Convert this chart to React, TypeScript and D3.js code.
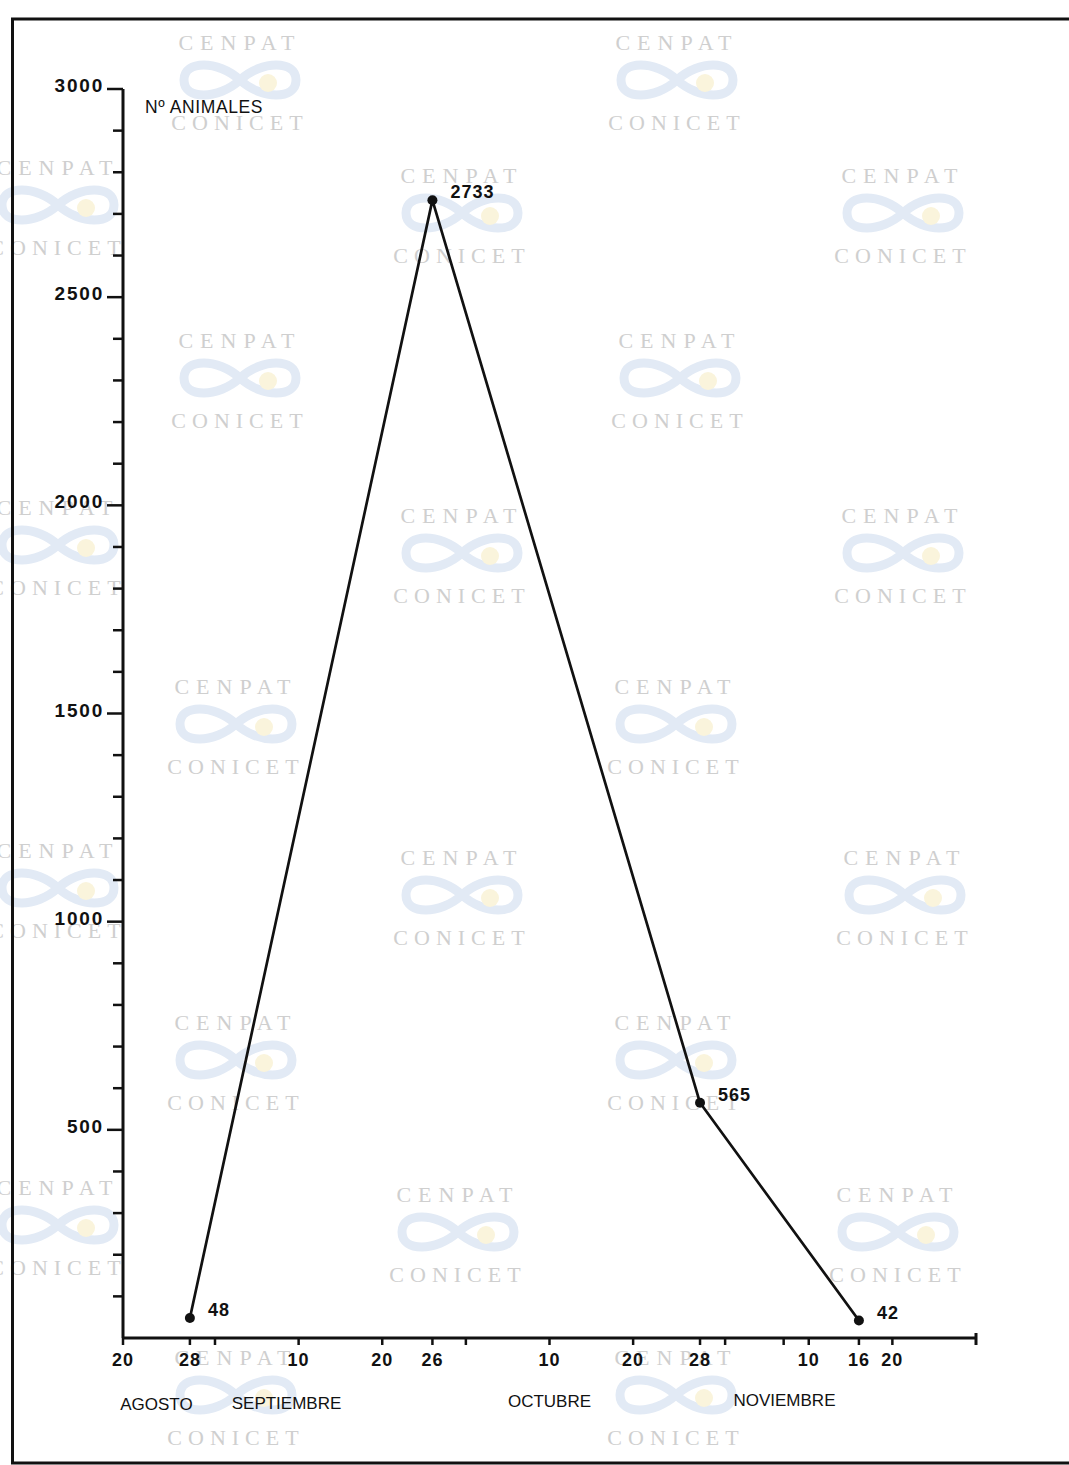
import React from "react";
import * as d3 from "d3";

// ---------- data ----------
const sampleDates = ["1983-08-28", "1983-09-26", "1983-10-28", "1983-11-16"];
const animalCounts = [48, 2733, 565, 42];

const axisStart = "1983-08-20";
const axisEnd = "1983-11-30";

const labeledTickDates = [
  "1983-08-20", "1983-08-28", "1983-09-10", "1983-09-20", "1983-09-26",
  "1983-10-10", "1983-10-20", "1983-10-28", "1983-11-10", "1983-11-16", "1983-11-20",
];
const unlabeledTickDates = ["1983-08-31", "1983-09-30", "1983-10-31", "1983-11-07"];

const monthNames = ["AGOSTO", "SEPTIEMBRE", "OCTUBRE", "NOVIEMBRE"];
const monthAnchorDates = ["1983-08-24", "1983-09-02", "1983-10-10", "1983-11-01"];
const monthAnchors = ["middle", "start", "middle", "start"];

const yMax = 3000;
const yMinorStep = 100;
const yMajorStep = 500;
const yTitle = "Nº ANIMALES";

// watermark layout (decorative scan stamps)
const stampCenters: [number, number][] = [
  [240, 42], [677, 42],
  [58, 167], [462, 175], [903, 175],
  [240, 340], [680, 340],
  [58, 507], [462, 515], [903, 515],
  [236, 686], [676, 686],
  [58, 850], [462, 857], [905, 857],
  [236, 1022], [676, 1022],
  [58, 1187], [458, 1194], [898, 1194],
  [236, 1357], [676, 1357],
];

const parse = d3.timeParse("%Y-%m-%d");

const W = 1069;
const H = 1465;
const X0 = 123;
const X1 = 976;
const Y0 = 1338;
const Ytop = 89;

const FONT = "'Liberation Sans', Arial, Helvetica, sans-serif";
const SERIF = "'Liberation Serif', 'DejaVu Serif', Times, serif";

function Stamp({ cx, cy }: { cx: number; cy: number }) {
  const ly = cy + 38;
  const a = 56;
  const b = 20;
  const p = `M${cx - a},${ly} C${cx - a},${ly - b} ${cx - 22},${ly - b} ${cx},${ly} C${cx + 22},${ly + b} ${cx + a},${ly + b} ${cx + a},${ly} C${cx + a},${ly - b} ${cx + 22},${ly - b} ${cx},${ly} C${cx - 22},${ly + b} ${cx - a},${ly + b} ${cx - a},${ly} Z`;
  return (
    <g>
      <text x={cx} y={cy + 8} textAnchor="middle" fontFamily={SERIF} fontSize={22}
        letterSpacing={7} fill="#cfcfcf">CENPAT</text>
      <path d={p} fill="none" stroke="#e2eaf5" strokeWidth={9} />
      <circle cx={cx + 28} cy={ly + 3} r={9} fill="#faf4dc" />
      <text x={cx} y={cy + 88} textAnchor="middle" fontFamily={SERIF} fontSize={22}
        letterSpacing={6} fill="#cfcfcf">CONICET</text>
    </g>
  );
}

export default function App() {
  const x = d3.scaleTime().domain([parse(axisStart)!, parse(axisEnd)!]).range([X0, X1]);
  const y = d3.scaleLinear().domain([0, yMax]).range([Y0, Ytop]);

  const pts = sampleDates.map((d, i) => ({ date: parse(d)!, v: animalCounts[i] }));
  const line = d3.line<{ date: Date; v: number }>().x((d) => x(d.date)).y((d) => y(d.v));

  const yTicks = d3.range(yMinorStep, yMax + 1, yMinorStep);
  const fmt = d3.timeFormat("%-d");

  return (
    <svg width={W} height={H} style={{ position: "absolute", left: 0, top: 0, display: "block", background: "#fff" }}>
      <rect x={0} y={0} width={W} height={H} fill="#fff" />
      {stampCenters.map(([cx, cy], i) => (
        <Stamp key={i} cx={cx} cy={cy} />
      ))}

      {/* frame */}
      <path d={`M${W + 10},19 H12.5 V1463 H${W + 10}`} fill="none" stroke="#111" strokeWidth={3} />

      {/* y axis */}
      <line x1={X0} x2={X0} y1={Ytop} y2={Y0} stroke="#111" strokeWidth={3} />
      {yTicks.map((v) => {
        const major = v % yMajorStep === 0;
        return (
          <g key={v}>
            <line x1={major ? X0 - 16 : X0 - 10} x2={X0} y1={y(v)} y2={y(v)} stroke="#111" strokeWidth={2.5} />
            {major && (
              <text x={X0 - 19} y={y(v) + 3} textAnchor="end" fontFamily={FONT} fontWeight="bold"
                fontSize={19} letterSpacing={1.8} fill="#111">{v}</text>
            )}
          </g>
        );
      })}
      <text x={145} y={113} fontFamily={FONT} fontSize={17.5} letterSpacing={0.6} fill="#111">{yTitle}</text>

      {/* x axis */}
      <line x1={X0} x2={X1} y1={Y0} y2={Y0} stroke="#111" strokeWidth={3} />
      <line x1={X1} x2={X1} y1={Y0 - 5} y2={Y0 + 7} stroke="#111" strokeWidth={3} />
      {unlabeledTickDates.map((d) => (
        <line key={d} x1={x(parse(d)!)} x2={x(parse(d)!)} y1={Y0} y2={Y0 + 7} stroke="#111" strokeWidth={2.5} />
      ))}
      {labeledTickDates.map((d) => {
        const dt = parse(d)!;
        const xx = x(dt);
        return (
          <g key={d}>
            <line x1={xx} x2={xx} y1={Y0} y2={Y0 + 7} stroke="#111" strokeWidth={2.5} />
            <text x={xx} y={Y0 + 28} textAnchor="middle" fontFamily={FONT} fontWeight="bold"
              fontSize={18} letterSpacing={1} fill="#111">{fmt(dt)}</text>
          </g>
        );
      })}
      {monthNames.map((m, i) => (
        <text key={m} x={x(parse(monthAnchorDates[i])!)} y={1410 - i * 1.3} textAnchor={monthAnchors[i] as any}
          fontFamily={FONT} fontSize={17} fill="#111">{m}</text>
      ))}

      {/* series */}
      <path d={line(pts) || ""} fill="none" stroke="#111" strokeWidth={2.7} strokeLinejoin="round" />
      {pts.map((p, i) => (
        <g key={i}>
          <circle cx={x(p.date)} cy={y(p.v)} r={5} fill="#111" />
          <text x={x(p.date) + 18} y={y(p.v) - 2} fontFamily={FONT} fontWeight="bold" fontSize={18}
            letterSpacing={1} fill="#111">{p.v}</text>
        </g>
      ))}
    </svg>
  );
}
